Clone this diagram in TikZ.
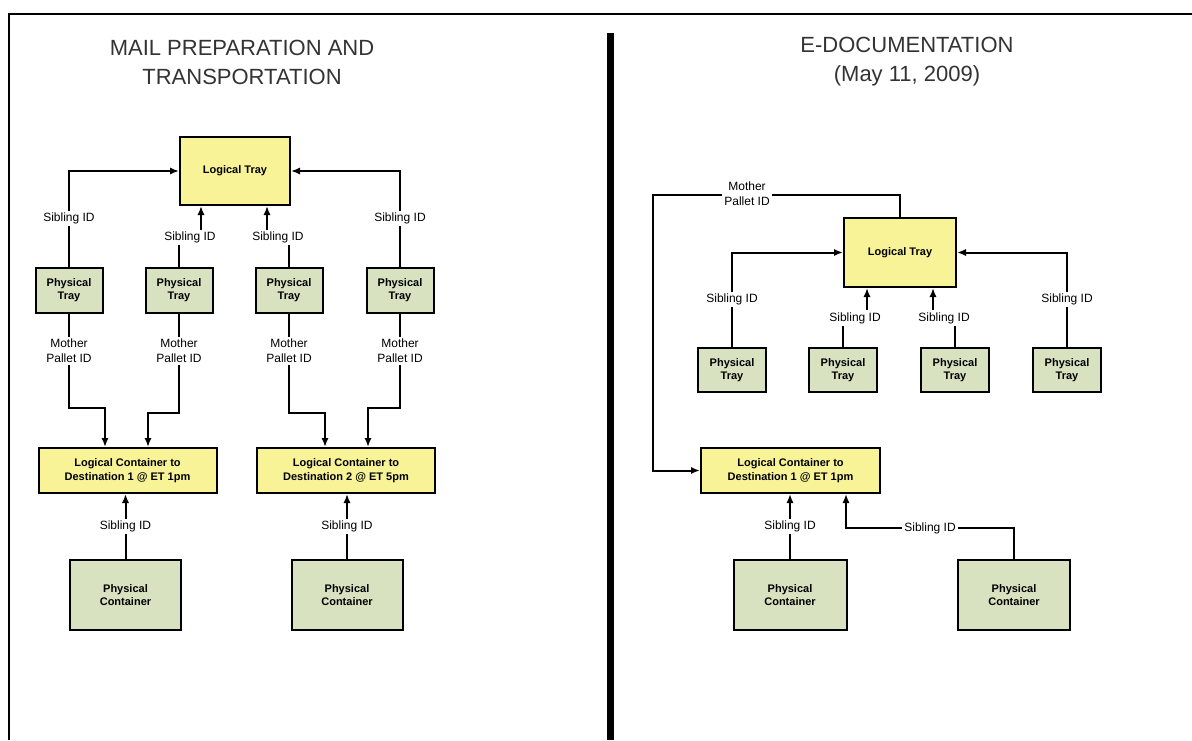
\documentclass[tikz,border=0pt]{standalone}
\usepackage{fontspec}
\setmainfont{Liberation Sans}
\usetikzlibrary{arrows.meta,calc}

\definecolor{logfill}{RGB}{247,243,150}
\definecolor{physfill}{RGB}{216,226,192}

\tikzset{
  box/.style={draw, line width=1pt, inner sep=0pt, align=center,
    font=\fontsize{5.5}{6.8}\selectfont\bfseries},
  logtray/.style={box, fill=logfill, minimum width=55pt, minimum height=34pt},
  phystray/.style={box, fill=physfill, minimum width=33.5pt, minimum height=22.5pt},
  logcont/.style={box, fill=logfill, minimum width=89pt, minimum height=22.5pt},
  physcont/.style={box, fill=physfill, minimum width=55.5pt, minimum height=35pt},
  lbl/.style={fill=white, inner sep=1pt, align=center,
    font=\fontsize{6}{7.5}\selectfont},
  ttl/.style={align=center, text=black!80, font=\fontsize{11}{14.5}\selectfont}
}

\begin{document}
\begin{tikzpicture}[x=0.5pt, y=-0.5pt, line width=1pt,
    >={Latex[length=4.5pt,width=3.6pt]}]
  \useasboundingbox (0,0) rectangle (1192,740);

  % frame and divider
  \draw[line width=1pt] (8,14) -- (1192,14);
  \draw[line width=1.2pt] (9,14) -- (9,740);
  \draw[line width=3.5pt] (610,33) -- (610,740);

  % titles
  \node[ttl] (titleL) at (242,62) {MAIL PREPARATION AND\\TRANSPORTATION};
  \node[ttl] (titleR) at (907,62) {E-DOCUMENTATION\\(May 11, 2009)};

  % ---- left: mail preparation ----
  \node[logtray] (ltL) at (235,171) {Logical Tray};
  \foreach \i/\x in {1/69, 2/179, 3/289, 4/400}
    \node[phystray] (ptL\i) at (\x,290) {Physical\\Tray};
  \node[logcont] (lcL1) at (127.5,470.5) {Logical Container to\\Destination 1 @ ET 1pm};
  \node[logcont] (lcL2) at (346,470.5) {Logical Container to\\Destination 2 @ ET 5pm};
  \node[physcont] (pcL1) at (125.5,595) {Physical\\Container};
  \node[physcont] (pcL2) at (347,595) {Physical\\Container};

  % sibling IDs up to the logical tray
  \draw[->] (ptL1.north) |- node[lbl,pos=0.25] {Sibling ID} (ltL.west);
  \draw[->] (ptL4.north) |- node[lbl,pos=0.25] {Sibling ID} (ltL.east);
  \draw[->] (ptL2.north) -- ++(0,-29) -| node[lbl,pos=0.25] {Sibling ID} ($(ltL.south)+(-34,0)$);
  \draw[->] (ptL3.north) -- ++(0,-29) -| node[lbl,pos=0.25] {Sibling ID} ($(ltL.south)+(32,0)$);

  % mother pallet IDs down to the containers
  \draw[->] (ptL1.south) -- ++(0,94) node[lbl,pos=0.4] {Mother\\Pallet ID} -| ($(lcL1.north)+(-22.5,0)$);
  \draw[->] (ptL2.south) -- ++(0,99) node[lbl,pos=0.38] {Mother\\Pallet ID} -| ($(lcL1.north)+(20.5,0)$);
  \draw[->] (ptL3.south) -- ++(0,99) node[lbl,pos=0.38] {Mother\\Pallet ID} -| ($(lcL2.north)+(-21,0)$);
  \draw[->] (ptL4.south) -- ++(0,94) node[lbl,pos=0.4] {Mother\\Pallet ID} -| ($(lcL2.north)+(22,0)$);

  \draw[->] (pcL1.north) -- (pcL1.north |- lcL1.south) node[lbl,midway] {Sibling ID};
  \draw[->] (pcL2.north) -- (pcL2.north |- lcL2.south) node[lbl,midway] {Sibling ID};

  % ---- right: e-documentation ----
  \node[logtray, minimum width=56pt, minimum height=34.5pt] (ltR) at (900,252.5) {Logical Tray};
  \foreach \i/\x in {1/732, 2/843, 3/955, 4/1067}
    \node[phystray, minimum width=34pt, minimum height=22pt] (ptR\i) at (\x,370) {Physical\\Tray};
  \node[logcont, minimum width=89.5pt] (lcR) at (790.5,470.5) {Logical Container to\\Destination 1 @ ET 1pm};
  \node[physcont, minimum width=56.5pt] (pcR1) at (790,595) {Physical\\Container};
  \node[physcont, minimum width=56pt] (pcR2) at (1014,595) {Physical\\Container};

  \draw[->] (ptR1.north) |- node[lbl,pos=0.25] {Sibling ID} (ltR.west);
  \draw[->] (ptR4.north) |- node[lbl,pos=0.25] {Sibling ID} (ltR.east);
  \draw[->] (ptR2.north) -- ++(0,-29) -| node[lbl,pos=0.25] {Sibling ID} ($(ltR.south)+(-33,0)$);
  \draw[->] (ptR3.north) -- ++(0,-29) -| node[lbl,pos=0.25] {Sibling ID} ($(ltR.south)+(33,0)$);

  % mother pallet ID goes round to the container
  \coordinate (mpR) at (653,195);
  \draw[->] (ltR.north) |- (mpR) |- (lcR.west);
  \node[lbl] (mpRlbl) at (747,194) {Mother\\Pallet ID};

  \draw[->] (pcR1.north) -- (pcR1.north |- lcR.south) node[lbl,midway] {Sibling ID};
  \draw[->] (pcR2.north) -- ++(0,-31) -| node[lbl,pos=0.25] {Sibling ID} ($(lcR.south)+(55.5,0)$);
\end{tikzpicture}
\end{document}
